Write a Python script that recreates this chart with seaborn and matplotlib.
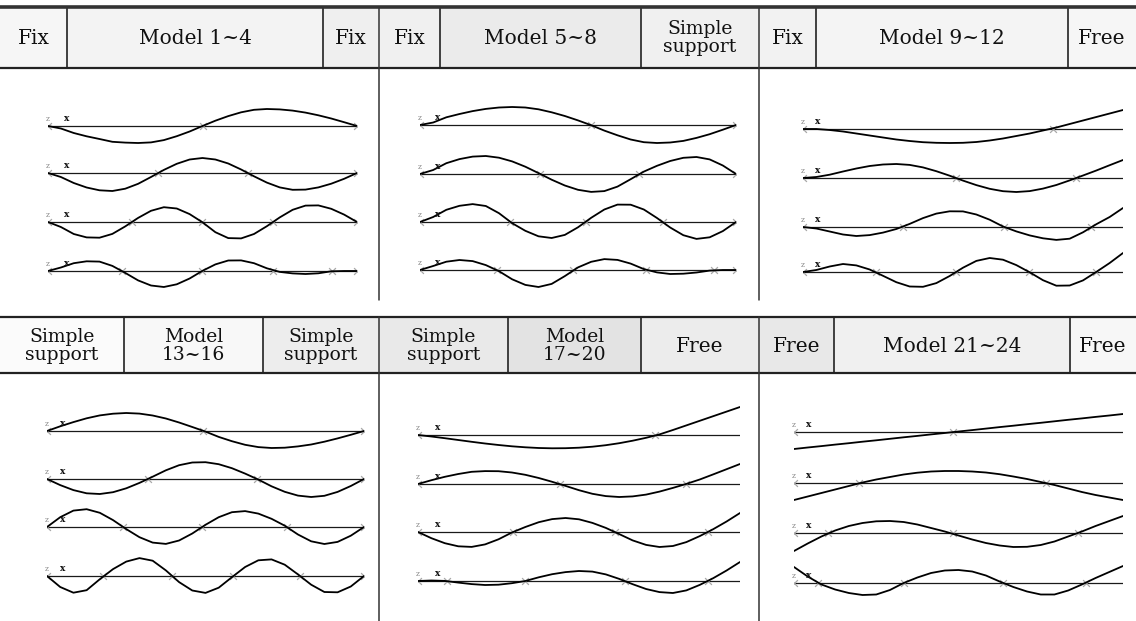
import numpy as np
import pandas as pd
import matplotlib
matplotlib.use("Agg")
import matplotlib.pyplot as plt
import seaborn as sns
from matplotlib.patches import Rectangle

sns.set_theme(style="white")
plt.rcParams['font.family'] = ['DejaVu Serif', 'DejaVu Sans']

W, H = 1136, 621

# beam stations as fraction of span (every 1/24)
stations = [i / 24 for i in range(25)]

# mode shapes, deflection (up +) at each station
fix_fix = [
    [0, -2.5, -7, -10.3, -13, -15.8, -16.6, -17, -16.4, -14.1, -10.2, -5.5, 0, 5.3, 9.9, 13.7, 16.2, 17, 16.6, 15.4, 13.4, 10.7, 7.5, 3.8, 0],
    [0, -4, -10, -14.5, -17.3, -18, -15.7, -10.8, -4, 3.1, 9.2, 13.5, 15, 13.5, 9.5, 3.5, -3.3, -9.6, -14.4, -16.8, -16.6, -14.4, -10.7, -5.8, 0],
    [0, -5, -12, -15.4, -15.7, -11.9, -4.4, 4.1, 11.2, 14.8, 13.5, 7.9, -0.3, -10.2, -16.1, -16.4, -12, -4.2, 4.6, 12.2, 16.4, 16.6, 13.2, 7.4, 0],
    [0, 3.5, 7.8, 9.7, 9.4, 5.1, -1.9, -9.4, -14.5, -16, -13.3, -7.5, 0.2, 6.6, 10.5, 10.6, 7.8, 2.7, -0.9, -2.4, -3, -2.3, -0.3, 0, 0],
]
fix_simple = [
    [0, 2.5, 7.7, 11, 13.9, 16.1, 17.5, 18, 17.5, 15.7, 12.7, 9, 4.6, -0.2, -5.6, -10.3, -14.5, -17.2, -18, -17.5, -15.9, -12.9, -9.2, -4.7, 0],
    [0, 4, 10.8, 14.9, 17.4, 18, 16.3, 12.6, 7.3, 0.9, -5.7, -11.5, -15.8, -17.9, -17.1, -12.6, -5.2, 2.4, 8.2, 13, 16.2, 17, 14.6, 8.5, 0],
    [0, 5, 12.2, 16.2, 17.9, 16, 8.8, -1.2, -8.8, -14.3, -16, -12.9, -5.3, 4.2, 12.5, 17.4, 17.3, 12.5, 4, -5.5, -13.2, -16.9, -15.3, -9.1, 0],
    [0, 4, 8.3, 10, 8.9, 4.9, -1.2, -9.3, -14.9, -17, -13.9, -6.1, 2.6, 8.2, 10.9, 10.1, 6.4, 0.9, -2.4, -4, -3.7, -2.5, -0.6, 0, 0],
]
fix_free = [
    [0, 0, -1, -2.5, -4.5, -6.5, -8.5, -10.5, -12, -13.2, -13.8, -14, -13.8, -13, -11.5, -9.5, -7, -4.5, -1.5, 1.5, 5, 8.5, 12, 15.5, 19],
    [0, 1, 3.3, 6.5, 9.5, 12, 13.5, 14, 13.1, 10.6, 6.8, 2.3, -2.6, -7.1, -10.8, -13.2, -14, -13.1, -10.6, -7, -2.4, 2.5, 7.5, 12.8, 18],
    [0, -1.5, -4.5, -7.5, -9, -8.1, -5.6, -2, 3.1, 8.9, 13.4, 15.7, 15.6, 12.5, 7.3, 0.5, -4.4, -8.4, -11.3, -12.9, -11.7, -5.3, 2.8, 10, 19],
    [0, 2, 5.5, 8, 6.6, 2.5, -3.8, -10.2, -14.5, -14.8, -11.1, -4, 4.3, 11.1, 14, 12.3, 6.9, -0.3, -8.2, -13.7, -13.5, -8.4, 0.1, 9, 19],
]
simple_simple = [
    [0, 4.7, 8.9, 12.7, 15.6, 17.3, 18, 17.4, 15.5, 12.5, 8.5, 4, -0.6, -5.9, -10.2, -13.8, -16.1, -17, -16.7, -15.4, -13.5, -10.7, -7.4, -3.8, 0],
    [0, -6.1, -11.1, -14.3, -15, -13.2, -9.3, -3.9, 2.3, 8.7, 13.8, 16.5, 16.8, 14.8, 10.8, 5.4, -0.6, -7.3, -12.8, -16.6, -18, -16.8, -12.9, -7, 0],
    [0, 9.8, 16.4, 17.8, 14.2, 6.9, -2.1, -10.2, -15.6, -16.9, -13.5, -6.5, 2.2, 9.8, 14.8, 15.9, 13.4, 8.2, 1.3, -7.5, -14.3, -17, -14.9, -8.7, 0],
    [0, -11, -16.7, -14.2, -3.2, 6.9, 14.4, 17.9, 15.3, 5.6, -6.1, -14.5, -16.9, -11.7, -1.2, 9, 15.7, 16.6, 11.3, 1.6, -8.7, -16, -16.3, -10.5, 0],
]
simple_free = [
    [0, -1.5, -3.2, -5, -6.8, -8.5, -10, -11.3, -12.3, -13, -13.3, -13.2, -12.7, -11.7, -10.2, -8.2, -5.7, -2.8, 0.6, 5, 9.6, 14.2, 18.8, 23.4, 28],
    [0, 3.8, 7.2, 10, 12.2, 12.9, 12.8, 11.5, 9.2, 6, 2.2, -1.9, -6.2, -9.8, -12.1, -13, -12.4, -10.6, -7.6, -3.9, 0.1, 4.5, 9.6, 14.8, 20],
    [0, -6.2, -11.2, -14.3, -14.9, -12.4, -7.3, -0.5, 5, 9.8, 12.9, 14, 12.7, 9.1, 4.1, -2.1, -8.4, -12.9, -15, -14, -10.1, -4.1, 2.8, 10.5, 19],
    [0, 0.5, 0.1, -1.6, -3.1, -4, -3.7, -2.2, 0, 3.7, 6.8, 8.9, 10, 9.4, 6.6, 2.1, -3.2, -8, -11.1, -12, -9.4, -3.9, 2.8, 10.5, 19],
]
free_free = [
    [-17, -15.5, -14.1, -12.6, -11.2, -9.7, -8.3, -6.8, -5.3, -3.9, -2.4, -1, 0.5, 1.9, 3.4, 4.9, 6.3, 7.8, 9.2, 10.7, 12.2, 13.6, 15.1, 16.5, 18],
    [-17, -13.5, -10, -6.5, -3, 0.5, 3.5, 6, 8.5, 10.3, 11.5, 12, 12, 11.5, 10.5, 8.8, 6.5, 4, 1, -2, -5.5, -9, -12, -14.5, -17],
    [-18, -10.5, -3.5, 2.5, 7, 10, 11.7, 12, 11, 8.5, 5, 1.5, -2.5, -6.5, -10, -12.5, -14, -13.8, -12, -8.5, -3.5, 1.5, 7, 12, 17],
    [16, 6.5, -1.5, -6.5, -10, -12, -11.5, -7, 0, 5.5, 10, 12.5, 13, 11.5, 7.5, 1.5, -4, -8.5, -11.5, -11.5, -7.5, -1.5, 5, 11, 17],
]

# node positions (fraction of span)
nodes_fix_fix = [[0.50], [0.356, 0.647], [0.272, 0.498, 0.728], [0.24, 0.498, 0.728, 0.92]]
nodes_fix_simple = [[0.54], [0.381, 0.692], [0.286, 0.524, 0.768], [0.244, 0.483, 0.714, 0.93]]
nodes_fix_free = [[0.78], [0.478, 0.853], [0.3125, 0.628, 0.90], [0.228, 0.478, 0.706, 0.916]]
nodes_simple_simple = [[0.492], [0.319, 0.662], [0.24, 0.489, 0.757], [0.177, 0.394, 0.587, 0.798]]
nodes_simple_free = [[0.736], [0.441, 0.832], [0.295, 0.612, 0.90], [0.09, 0.332, 0.643, 0.90]]
nodes_free_free = [[0.483], [0.198, 0.766], [0.103, 0.483, 0.863], [0.073, 0.334, 0.635, 0.888]]

top_labels = [["Fix", "Model 1~4", "Fix"],
              ["Fix", "Model 5~8", "Simple\nsupport"],
              ["Fix", "Model 9~12", "Free"]]
bottom_labels = [["Simple\nsupport", "Model\n13~16", "Simple\nsupport"],
                 ["Simple\nsupport", "Model\n17~20", "Free"],
                 ["Free", "Model 21~24", "Free"]]

# ---------------- layout (pixels) ----------------
shapes = [fix_fix, fix_simple, fix_free, simple_simple, simple_free, free_free]
nodes = [nodes_fix_fix, nodes_fix_simple, nodes_fix_free,
         nodes_simple_simple, nodes_simple_free, nodes_free_free]
geom = [
    (48, 357, [126, 173, 222, 271], 0.06, True),
    (420, 736, [125, 174, 222, 270], 0.057, True),
    (803, 1123, [129, 178, 227, 272], 0.047, False),
    (47, 364, [431, 479, 527, 576], 0.05, True),
    (418, 740, [435, 484, 532, 581], 0.062, False),
    (794, 1123, [432, 483, 533, 583], 0.045, False),
]
top_edges = [[0, 67, 323, 379], [379, 440, 641, 759], [759, 816, 1068, 1136]]
bottom_edges = [[0, 124, 263, 379], [379, 508, 641, 759], [759, 834, 1070, 1136]]
top_fill = [["#f6f6f6", "#f3f3f3", "#efefef"], ["#f0f0f0", "#ebebeb", "#f0f0f0"],
            ["#f2f2f2", "#f4f4f4", "#f6f6f6"]]
bottom_fill = [["#fbfbfb", "#f8f8f8", "#ededed"], ["#e9e9e9", "#e3e3e3", "#ececec"],
               ["#e8e8e8", "#f0f0f0", "#f7f7f7"]]

fig = plt.figure(figsize=(W / 100, H / 100), dpi=100)
fig.patch.set_facecolor("white")

bg = fig.add_axes([0, 0, 1, 1])
bg.set_xlim(0, W)
bg.set_ylim(H, 0)
bg.axis("off")


def header(edges_sets, labels_sets, fills, y0, y1):
    for edges, labels, cols in zip(edges_sets, labels_sets, fills):
        for i, lab in enumerate(labels):
            a, b = edges[i], edges[i + 1]
            bg.add_patch(Rectangle((a, y0), b - a, y1 - y0, facecolor=cols[i],
                                   edgecolor="none", zorder=0))
            two = "\n" in lab
            bg.text((a + b) / 2, (y0 + y1) / 2 + 1, lab, ha="center", va="center",
                    fontsize=13.5 if two else 14.5, linespacing=1.0, color="#111")
        for x in edges[1:-1]:
            bg.plot([x, x], [y0, y1], color="#222", lw=1.2)
    bg.plot([0, W], [y1, y1], color="#222", lw=1.6)


header(top_edges, top_labels, top_fill, 7, 68)
header(bottom_edges, bottom_labels, bottom_fill, 317, 373)
bg.plot([0, W], [6.5, 6.5], color="#333", lw=2.6)
bg.plot([0, W], [317, 317], color="#222", lw=1.6)
for x in [379, 759]:
    bg.plot([x, x], [7, 300], color="#333", lw=1.1)
    bg.plot([x, x], [317, 621], color="#333", lw=1.1)

# ---------------- mode shapes ----------------
for shp, nds, (x0, x1, rows, xu, end_mark) in zip(shapes, nodes, geom):
    for vals, nd, yb in zip(shp, nds, rows):
        ax = fig.add_axes([x0 / W, (H - yb - 40) / H, (x1 - x0) / W, 80 / H])
        ax.set_xlim(0, 1)
        ax.set_ylim(-40, 40)
        ax.axis("off")
        ax.patch.set_alpha(0)
        ax.axhline(0, color="#1a1a1a", lw=0.9, zorder=1)
        df = pd.DataFrame({"u": stations, "w": vals})
        sns.lineplot(data=df, x="u", y="w", ax=ax, color="black", lw=1.3,
                     estimator=None, sort=False, zorder=3)
        ends = [0, 1] if end_mark else [0]
        sns.scatterplot(x=nd + ends, y=[0] * (len(nd) + len(ends)), ax=ax,
                        marker="x", s=24, color="#a8a8a8", linewidth=0.9,
                        zorder=2, legend=False)
        ax.text(xu, 3, "x", fontsize=6.5, fontweight="bold", ha="center",
                va="bottom", color="#111")
        ax.text(0.0, 3, "z", fontsize=5.5, ha="center", va="bottom", color="#888")
        ax.set_xlabel("")
        ax.set_ylabel("")

fig.savefig("out.png", dpi=100)
